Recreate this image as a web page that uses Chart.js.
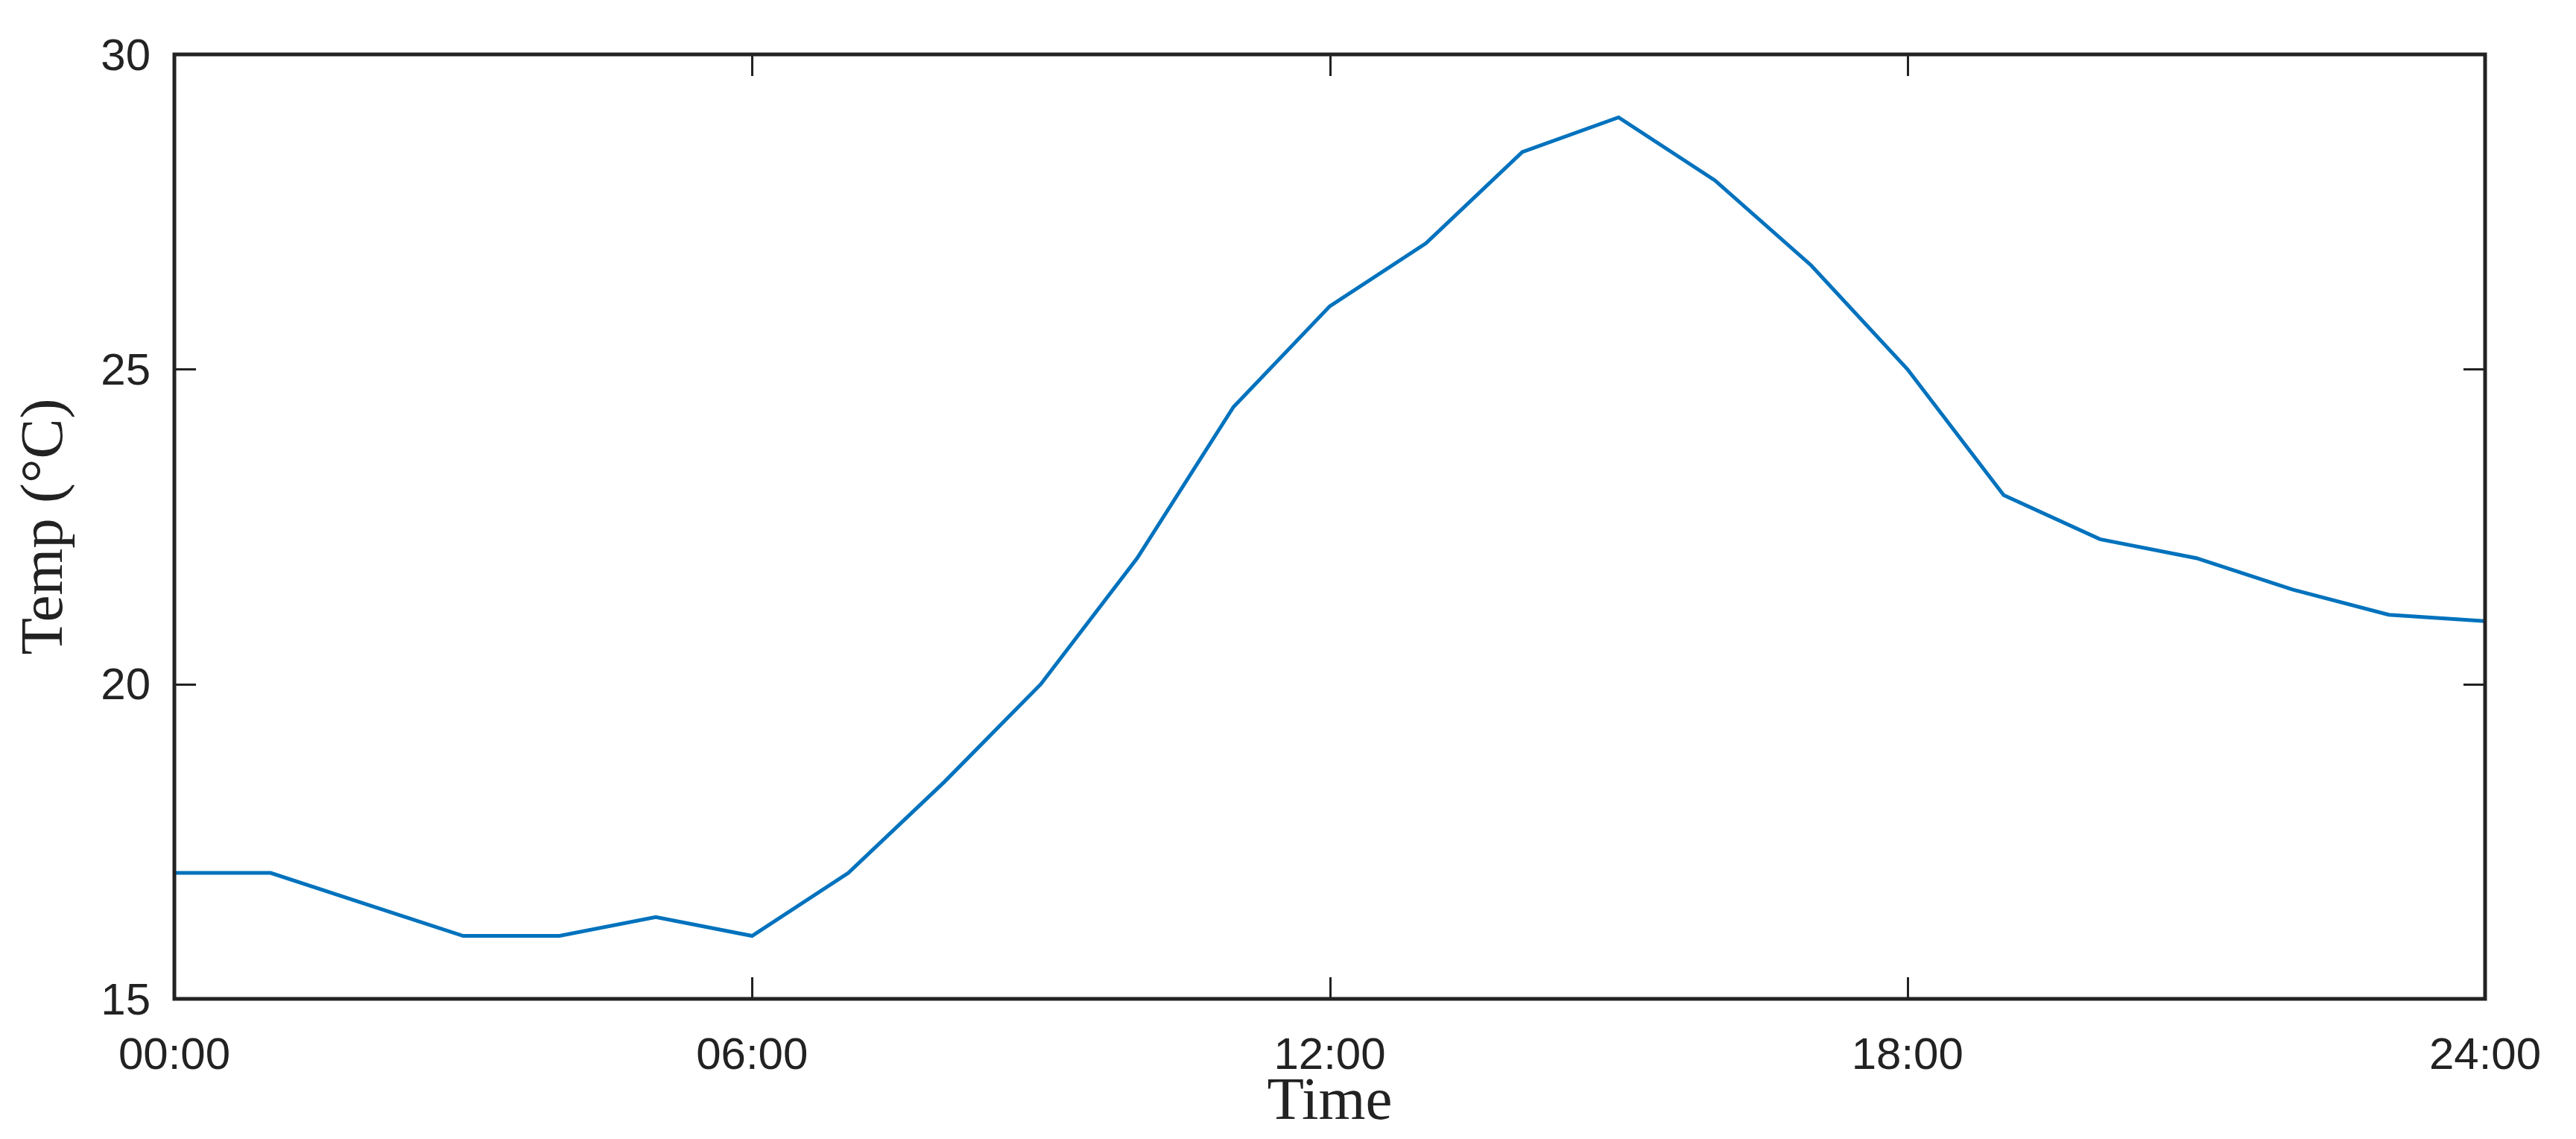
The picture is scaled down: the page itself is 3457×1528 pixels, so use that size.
<!DOCTYPE html>
<html>
<head>
<meta charset="utf-8">
<script src="https://cdn.jsdelivr.net/npm/chart.js@4/dist/chart.umd.min.js"></script>
<style>
  html, body { margin: 0; padding: 0; background: #ffffff; }
  #wrap { width: 3457px; height: 1528px; }
</style>
</head>
<body>
<div id="wrap"><canvas id="c" width="3457" height="1528"></canvas></div>
<script>
// ---- data ----
const hours = [0, 1, 2, 3, 4, 5, 6, 7, 8, 9, 10, 11, 12, 13, 14, 15, 16, 17, 18, 19, 20, 21, 22, 23, 24];
const temps = [17, 17, 16.5, 16, 16, 16.3, 16, 17, 18.45, 20, 22, 24.4, 26, 27, 28.45, 29, 28, 26.65, 25, 23, 22.3, 22, 21.5, 21.1, 21];
const xTickValues = [0, 6, 12, 18, 24];
const xTickLabels = ['00:00', '06:00', '12:00', '18:00', '24:00'];
const yTickValues = [15, 20, 25, 30];
const xTitle = 'Time';
const yTitle = 'Temp (°C)';

const axisColor = '#222222';
const sansFont = "'Liberation Sans', Arial, sans-serif";
const serifFont = "'Liberation Serif', 'Times New Roman', serif";

const boxPlugin = {
  id: 'boxAndTicks',
  afterDraw(chart) {
    const { ctx, chartArea: a, scales } = chart;
    const tickLen = 29;
    ctx.save();
    ctx.strokeStyle = axisColor;
    ctx.lineWidth = 3;
    ctx.beginPath();
    scales.x.ticks.forEach(t => {
      const px = Math.round(scales.x.getPixelForValue(t.value)) + 0.5;
      ctx.moveTo(px, a.bottom); ctx.lineTo(px, a.bottom - tickLen);
      ctx.moveTo(px, a.top); ctx.lineTo(px, a.top + tickLen);
    });
    scales.y.ticks.forEach(t => {
      const py = Math.round(scales.y.getPixelForValue(t.value)) + 0.5;
      ctx.moveTo(a.left, py); ctx.lineTo(a.left + tickLen, py);
      ctx.moveTo(a.right, py); ctx.lineTo(a.right - tickLen, py);
    });
    ctx.stroke();
    ctx.lineWidth = 5;
    ctx.strokeRect(a.left, a.top, a.right - a.left, a.bottom - a.top);
    ctx.restore();
  }
};

new Chart(document.getElementById('c'), {
  type: 'line',
  data: {
    datasets: [{
      data: hours.map((h, i) => ({ x: h, y: temps[i] })),
      borderColor: '#0072BD',
      borderWidth: 5,
      pointRadius: 0,
      tension: 0,
      fill: false
    }]
  },
  options: {
    responsive: false,
    animation: false,
    events: [],
    layout: { padding: { top: 73, right: 122, bottom: 0, left: 0 } },
    plugins: { legend: { display: false }, tooltip: { enabled: false } },
    scales: {
      x: {
        type: 'linear',
        min: 0, max: 24,
        afterBuildTicks(scale) { scale.ticks = xTickValues.map(v => ({ value: v })); },
        afterFit(scale) { scale.height = 188; },
        grid: { display: false, drawTicks: false },
        border: { display: false },
        ticks: {
          padding: 41,
          color: axisColor,
          font: { family: sansFont, size: 60 },
          maxRotation: 0,
          autoSkip: false,
          callback: (v) => xTickLabels[xTickValues.indexOf(v)]
        },
        title: {
          display: true,
          text: xTitle,
          color: axisColor,
          font: { family: serifFont, size: 81, lineHeight: 1 },
          padding: { top: 0, bottom: 8 }
        }
      },
      y: {
        type: 'linear',
        min: 15, max: 30,
        afterBuildTicks(scale) { scale.ticks = yTickValues.map(v => ({ value: v })); },
        afterFit(scale) { scale.width = 234; },
        grid: { display: false, drawTicks: false },
        border: { display: false },
        ticks: {
          padding: 32,
          color: axisColor,
          font: { family: sansFont, size: 60 },
          labelOffset: 4
        },
        title: {
          display: true,
          text: yTitle,
          color: axisColor,
          font: { family: serifFont, size: 81, lineHeight: 1 },
          padding: { top: 21, bottom: 0 }
        }
      }
    }
  },
  plugins: [boxPlugin]
});
</script>
</body>
</html>
